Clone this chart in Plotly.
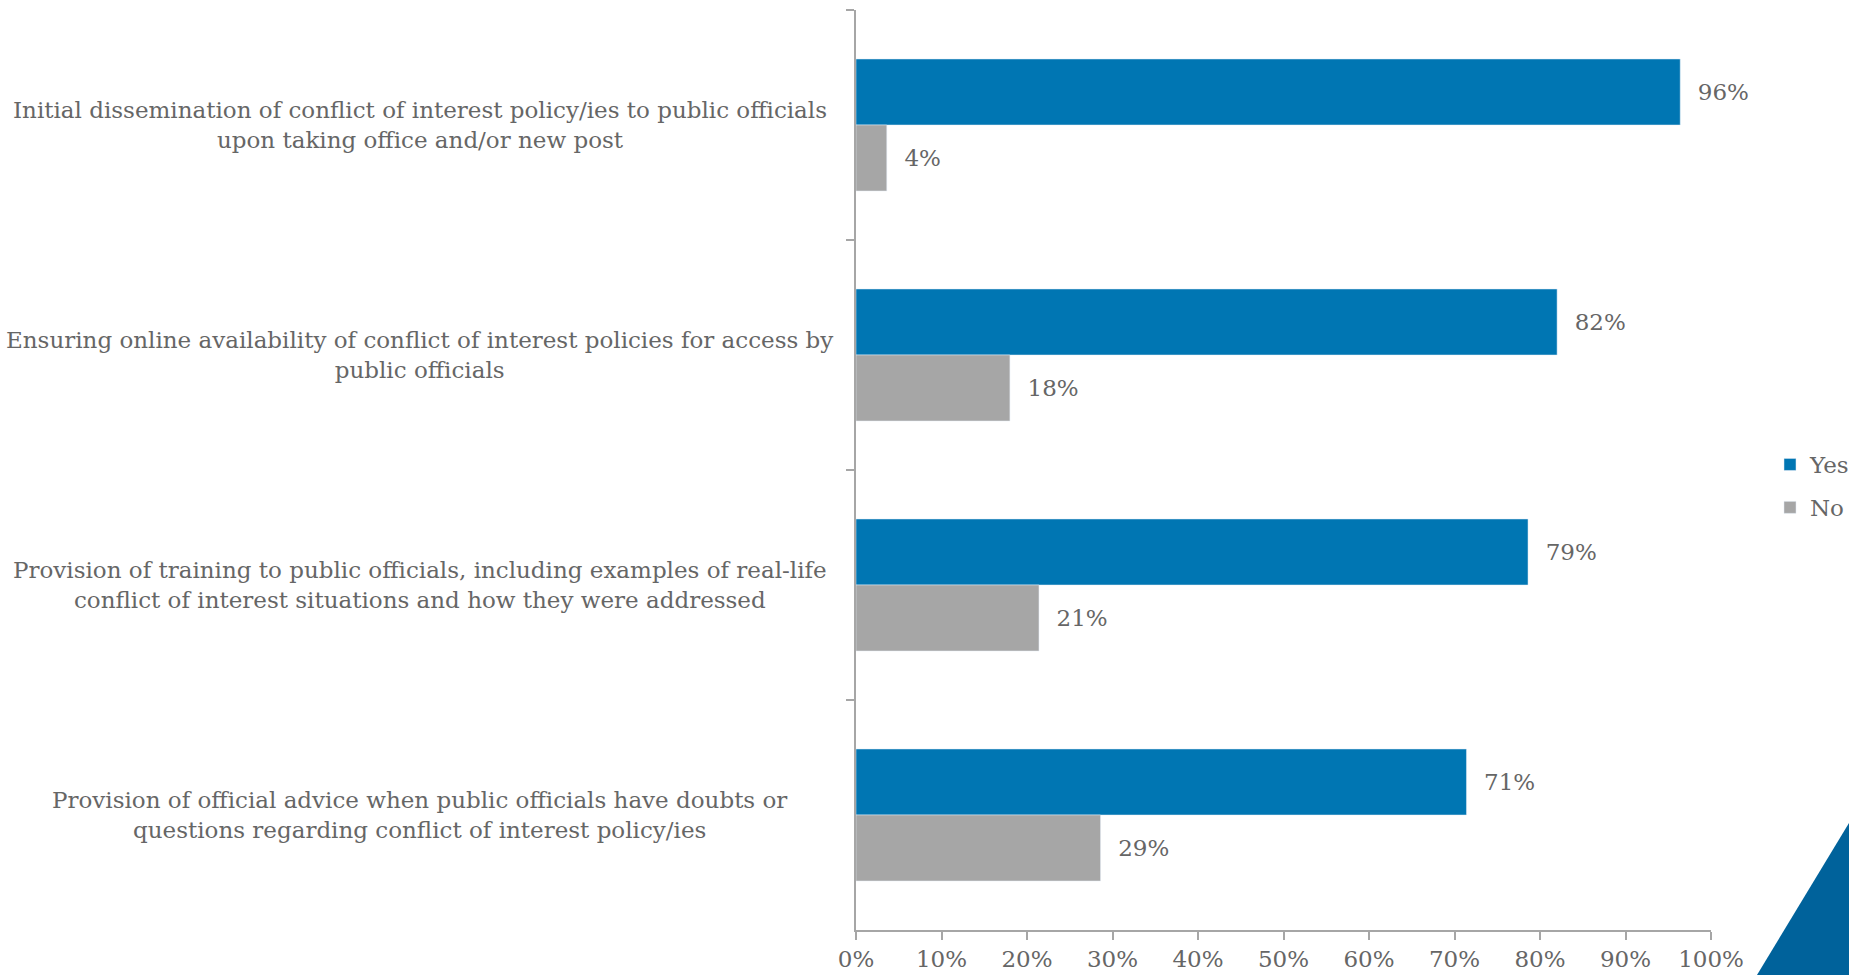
import plotly.graph_objects as go

categories = [
    "Initial dissemination of conflict of interest policy/ies to public officials<br>upon taking office and/or new post",
    "Ensuring online availability of conflict of interest policies for access by<br>public officials",
    "Provision of training to public officials, including examples of real-life<br>conflict of interest situations and how they were addressed",
    "Provision of official advice when public officials have doubts or<br>questions regarding conflict of interest policy/ies",
]
yes_values = [96.4, 82.0, 78.6, 71.4]
no_values = [3.6, 18.0, 21.4, 28.6]
x_ticks = [0, 10, 20, 30, 40, 50, 60, 70, 80, 90, 100]
x_tick_labels = [f"{t}%" for t in x_ticks]

FONT = "DejaVu Serif"
TXT = "#666666"
AX = "#A6A6A6"
BLUE = "#0076B3"
GRAY = "#A6A6A6"
FS = 23

fig = go.Figure()
fig.add_trace(go.Bar(
    y=categories, x=yes_values, orientation="h", name="Yes",
    marker=dict(color=BLUE), legendgroup="yes",
    texttemplate="\u00a0\u00a0%{x:.0f}%", textposition="outside",
    textfont=dict(family=FONT, size=FS, color=TXT), cliponaxis=False,
))
fig.add_trace(go.Bar(
    y=categories, x=no_values, orientation="h", name="No",
    marker=dict(color=GRAY), legendgroup="no",
    texttemplate="\u00a0\u00a0%{x:.0f}%", textposition="outside",
    textfont=dict(family=FONT, size=FS, color=TXT), cliponaxis=False,
))

for c in categories:
    fig.add_annotation(
        x=-0.51, xref="paper", y=c, yref="y", text=c, showarrow=False,
        xanchor="center", yanchor="middle", align="center",
        font=dict(family=FONT, size=FS, color=TXT),
    )

fig.add_shape(
    type="path", xref="paper", yref="paper",
    path="M 1.0538 -0.0489 L 1.1614 0.1163 L 1.1614 -0.0489 Z",
    fillcolor="#00629B", line=dict(width=0), layer="above",
)

fig.update_layout(
    width=1850, height=975,
    margin=dict(l=856, r=139, t=10, b=45, autoexpand=False),
    paper_bgcolor="white", plot_bgcolor="white",
    barmode="group", bargap=0.426, bargroupgap=0,
    font=dict(family=FONT, size=FS, color=TXT),
    showlegend=True,
    legend=dict(
        x=1.069, y=0.4826, xanchor="left", yanchor="middle",
        traceorder="grouped", tracegroupgap=10,
        font=dict(family=FONT, size=FS, color=TXT),
        itemwidth=30,
    ),
    xaxis=dict(
        range=[0, 100], tickvals=x_ticks, ticktext=x_tick_labels,
        showgrid=False, zeroline=False, showline=True, linecolor=AX, linewidth=1.5,
        ticks="outside", ticklen=8, tickcolor=AX, tickwidth=1.5,
        tickfont=dict(family=FONT, size=FS, color=TXT), automargin=False,
    ),
    yaxis=dict(
        autorange="reversed", showticklabels=False, tickson="boundaries",
        showgrid=False, zeroline=False, showline=True, linecolor=AX, linewidth=1.5,
        ticks="outside", ticklen=8, tickcolor=AX, tickwidth=1.5, automargin=False,
    ),
)

fig.write_html(
    "out.html",
    post_script="document.body.style.margin='0';document.body.style.overflow='hidden';",
)
